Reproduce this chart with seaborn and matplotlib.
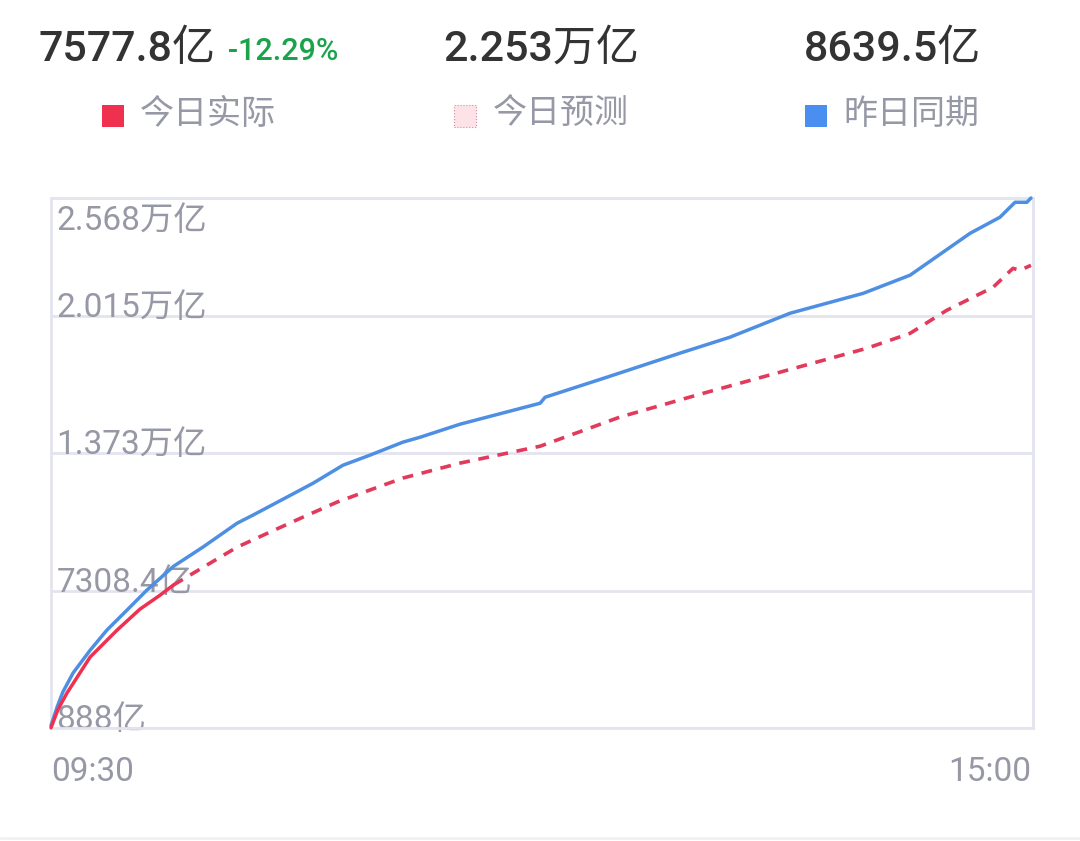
import numpy as np
import pandas as pd
import matplotlib
matplotlib.use("Agg")
import matplotlib.pyplot as plt
import matplotlib.transforms as mtransforms
from matplotlib.patches import Rectangle
from matplotlib.lines import Line2D
import seaborn as sns

sns.set_style("white")
plt.rcParams["font.family"] = ["Roboto", "Noto Sans CJK SC", "DejaVu Sans"]

# minutes since 09:30 (trading minutes, 240 = 15:00), values in 亿
yday_t = [0, 1.5, 2.9, 5.4, 9.6, 13.7, 18.6, 23.5, 30, 37.2, 45.6, 49.5, 57.8, 64.2,
          71.5, 78.1, 86.2, 90.4, 100.2, 119.8, 121, 136.2, 154, 166.3, 181, 198.9,
          210.4, 225.1, 232.4, 236.1, 239, 240]
yday_v = [1000, 1870, 2570, 3460, 4530, 5470, 6400, 7340, 8450, 9350, 10470, 10850,
          11690, 12340, 13180, 13650, 14260, 14490, 15100, 16080, 16360, 17300, 18420,
          19170, 20290, 21220, 22070, 24030, 24780, 25480, 25480, 25680]

actual_t = [0, 1.7, 3.9, 9.6, 16.2, 21.8, 26.7, 30]
actual_v = [900, 1750, 2520, 4210, 5470, 6450, 7100, 7578]

forecast_t = [30, 37.2, 45.6, 53.6, 61.7, 70, 78.1, 86.2, 100.2, 119.8, 139.3, 158.9,
              178.5, 199.8, 210.4, 219.4, 230.7, 235.6, 237.3, 240]
forecast_v = [7578, 8400, 9350, 10050, 10750, 11450, 12020, 12580, 13280, 14070, 15430,
              16500, 17530, 18650, 19350, 20430, 21500, 22390, 22300, 22530]

y_ticks = [888, 7308.4, 13730, 20150, 25680]
y_labels = ["888亿", "7308.4亿", "1.373万亿", "2.015万亿", "2.568万亿"]
x_ticks = [0, 240]
x_labels = ["09:30", "15:00"]

header_vals = ["7577.8亿", "2.253万亿", "8639.5亿"]
header_change = "-12.29%"
legend_names = ["今日实际", "今日预测", "昨日同期"]

RED = "#f0304f"
RED_DASH = "#e23a5a"
BLUE = "#4f8fe3"
GRID = "#e4e4ef"
GRAY = "#9798a6"
DARK = "#333333"

W, H = 1080, 841
fig = plt.figure(figsize=(W / 100, H / 100), dpi=100)
ax = fig.add_axes([51 / W, (H - 728) / H, 982 / W, 530 / H])

yday = pd.DataFrame({"t": yday_t, "v": yday_v})
actual = pd.DataFrame({"t": actual_t, "v": actual_v})
forecast = pd.DataFrame({"t": forecast_t, "v": forecast_v})

sns.lineplot(data=yday, x="t", y="v", ax=ax, color=BLUE, linewidth=2.5,
             sort=False, clip_on=False, zorder=4)
sns.lineplot(data=forecast, x="t", y="v", ax=ax, color=RED_DASH, linewidth=2.6,
             sort=False, linestyle=(0, (3.0, 2.4)), clip_on=False, zorder=3)
sns.lineplot(data=actual, x="t", y="v", ax=ax, color=RED, linewidth=2.5,
             sort=False, clip_on=False, zorder=5)

ax.set_xlim(0, 240.5)
ax.set_ylim(888, 25680)
ax.set_xlabel("")
ax.set_ylabel("")

for s in ax.spines.values():
    s.set_color(GRID)
    s.set_linewidth(2)

ax.set_yticks(y_ticks)
ax.set_yticklabels(y_labels)
ax.yaxis.grid(True, color=GRID, linewidth=2)
ax.tick_params(axis="y", length=0, pad=-4, labelsize=24, labelcolor=GRAY)
for i, lab in enumerate(ax.get_yticklabels()):
    lab.set_horizontalalignment("left")
    lab.set_verticalalignment("baseline")
    down = 32 if i == len(y_ticks) - 1 else 1
    lab.set_transform(lab.get_transform() +
                      mtransforms.ScaledTranslation(0, -down / 100, fig.dpi_scale_trans))

ax.set_xticks(x_ticks)
ax.set_xticklabels(x_labels)
ax.tick_params(axis="x", length=0, pad=20, labelsize=24, labelcolor=GRAY)
xl = ax.get_xticklabels()
xl[0].set_horizontalalignment("left")
xl[1].set_horizontalalignment("right")

# header numbers
fig.text(39 / W, 1 - 61 / H, header_vals[0], fontsize=31, color=DARK,
         fontweight="medium", va="baseline", ha="left")
fig.text(228 / W, 1 - 60 / H, header_change, fontsize=22, color="#1aa34b",
         fontweight="medium", va="baseline", ha="left")
fig.text(541 / W, 1 - 61 / H, header_vals[1], fontsize=31, color=DARK,
         fontweight="medium", va="baseline", ha="center")
fig.text(892 / W, 1 - 61 / H, header_vals[2], fontsize=31, color=DARK,
         fontweight="medium", va="baseline", ha="center")

# legend row
sq = [(102, RED, None), (454, "#fde2e8", "#d9879d"), (805, "#4a8ef0", None)]
txt_x = [140, 493, 843]
for (x0, fc, ec), tx, name in zip(sq, txt_x, legend_names):
    r = Rectangle((x0 / W, 1 - 127 / H), 22 / W, 22 / H, transform=fig.transFigure,
                  facecolor=fc, edgecolor=ec if ec else "none",
                  linestyle=":" if ec else "-", linewidth=0.8)
    fig.add_artist(r)
    fig.text(tx / W, 1 - 115 / H, name, fontsize=24.5, color=GRAY,
             va="center", ha="left")

# faint bottom separator
fig.add_artist(Line2D([0, 1], [1 - 838 / H, 1 - 838 / H], transform=fig.transFigure,
                      color="#f1f1f5", linewidth=2))

fig.savefig("out.png", dpi=100, facecolor="white")
